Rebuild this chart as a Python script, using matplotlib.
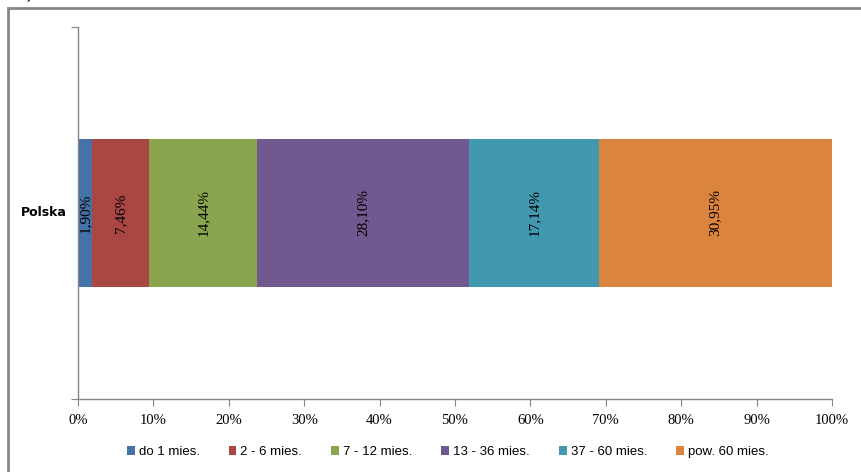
import matplotlib.pyplot as plt
from matplotlib.patches import Patch, Rectangle

category = "Polska"
groups = ["do 1 mies.", "2 - 6 mies.", "7 - 12 mies.", "13 - 36 mies.",
          "37 - 60 mies.", "pow. 60 mies."]
shares = [1.90, 7.46, 14.44, 28.10, 17.14, 30.95]
labels = ["1,90%", "7,46%", "14,44%", "28,10%", "17,14%", "30,95%"]
colors = ["#4572A7", "#AA4643", "#89A54E", "#71588F", "#4198AF", "#DB843D"]
xticks = list(range(0, 101, 10))

fig = plt.figure(figsize=(8.61, 4.72), dpi=100)
ax = fig.add_axes([78 / 861, 1 - 399 / 472, 754 / 861, 372 / 472])

left = 0.0
for val, lab, col in zip(shares, labels, colors):
    ax.barh(0, val, left=left, height=0.4, color=col, edgecolor='none')
    ax.text(left + val / 2, 0, lab, rotation=90, ha='center', va='center',
            family='Liberation Serif', fontsize=11, color='black')
    left += val

ax.set_xlim(0, 100)
ax.set_ylim(-0.5, 0.5)
ax.set_xticks(xticks)
ax.set_xticklabels(["{}%".format(t) for t in xticks],
                   family='Liberation Serif', fontsize=10.5)
ax.set_yticks([-0.5, 0.5])
ax.set_yticklabels([])
ax.tick_params(axis='x', length=5, color='#868686', pad=6)
ax.tick_params(axis='y', length=5, color='#868686')
ax.text(-0.015, 0.5, category, transform=ax.transAxes, ha='right', va='center',
        family='DejaVu Sans', fontweight='bold', fontsize=9)

for s in ['top', 'right']:
    ax.spines[s].set_visible(False)
for s in ['left', 'bottom']:
    ax.spines[s].set_color('#868686')
    ax.spines[s].set_linewidth(1)

handles = [Patch(facecolor=c, edgecolor='none') for c in colors]
fig.legend(handles, groups, loc='center', bbox_to_anchor=(0.52, 1 - 452 / 472),
           ncol=6, frameon=False, handlelength=0.6, handleheight=0.6,
           handletextpad=0.3, columnspacing=2.2,
           prop={'family': 'Liberation Sans', 'size': 9.5})

# outer chart frame, only its top and left edges are in view
fig.patches.append(Rectangle((8 / 861, -0.2), 1.2, 1.2 - 8 / 472,
                             transform=fig.transFigure, fill=False,
                             edgecolor='#868686', linewidth=2, clip_on=False))
# caption line above the frame, cut off by the image edge
fig.text(33 / 861, 1.0 + 5 / 472, "cen)", ha='right', va='center',
         family='Liberation Serif', fontweight='bold', fontsize=11)

fig.savefig("out.png", dpi=100)
